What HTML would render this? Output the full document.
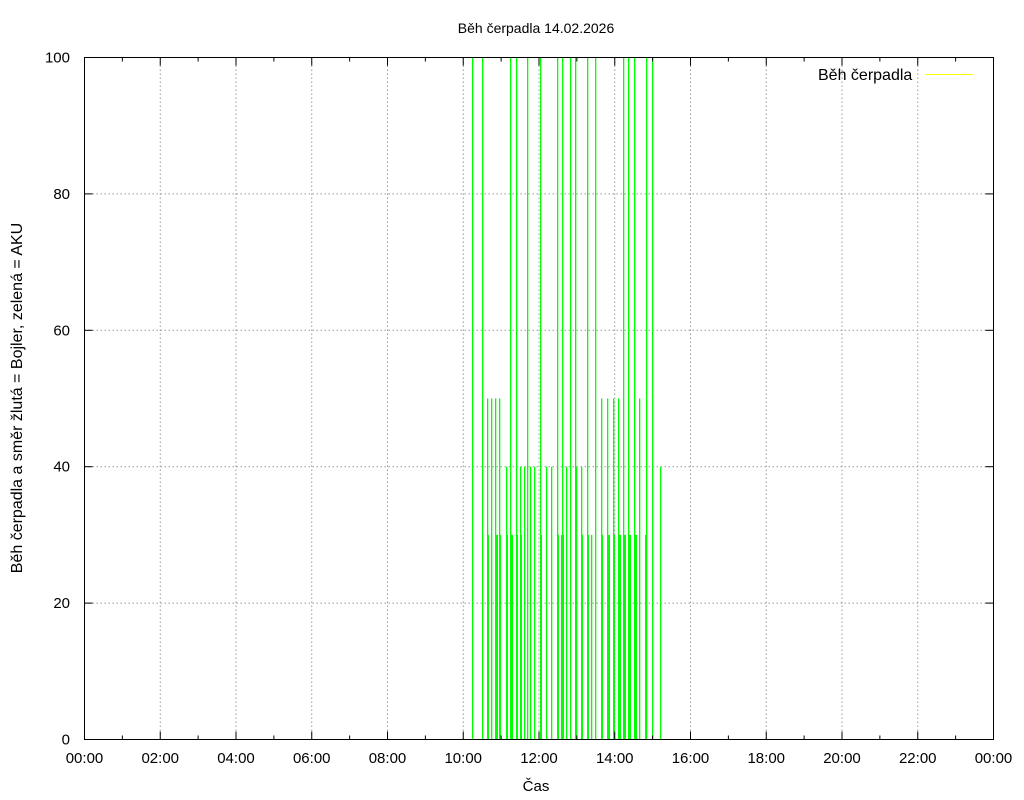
<!DOCTYPE html>
<html><head><meta charset="utf-8"><style>
body{margin:0;background:#fff}
svg{display:block;font-family:"Liberation Sans",sans-serif}
</style></head><body>
<svg id="s" width="1024" height="800" xmlns="http://www.w3.org/2000/svg">
<rect width="1024" height="800" fill="#fff"/>
<text x="536" y="33" font-size="14" text-anchor="middle">Běh čerpadla 14.02.2026</text>
<text x="536" y="791" font-size="15" text-anchor="middle">Čas</text>
<text transform="translate(22,398) rotate(-90)" font-size="16" text-anchor="middle">Běh čerpadla a směr žlutá = Bojler, zelená = AKU</text>
<g id="grid"></g>
<g id="bars"></g>
<rect x="84.5" y="57.5" width="909" height="682" fill="none" stroke="#000" stroke-width="1"/>
<g id="ticks"></g>
<text x="818" y="80" font-size="16">Běh čerpadla</text>
<line x1="925" y1="74.5" x2="973" y2="74.5" stroke="#ffff00" stroke-width="1"/>
</svg>
<script>
var NS="http://www.w3.org/2000/svg";
function el(p,t,a,txt){var e=document.createElementNS(NS,t);for(var k in a)e.setAttribute(k,a[k]);if(txt!=null)e.textContent=txt;document.getElementById(p).appendChild(e);}
var X0=84.5,W=909,Y0=739.5,H=682;
for(var v=0;v<=100;v+=20){var y=Y0-v*H/100;
 if(v>0&&v<100)el("grid","line",{x1:X0,x2:X0+W,y1:y,y2:y,stroke:"#999","stroke-dasharray":"1.5,2.5"});
 el("ticks","line",{x1:X0,x2:X0+8,y1:y,y2:y,stroke:"#000"});
 el("ticks","line",{x1:X0+W-8,x2:X0+W,y1:y,y2:y,stroke:"#000"});
 el("ticks","text",{x:70,y:y+5,"font-size":15,"text-anchor":"end"},String(v));}
for(var h=0;h<=24;h++){var x=X0+h*W/24;var big=h%2==0;
 if(big&&h>0&&h<24)el("grid","line",{x1:x,x2:x,y1:57.5,y2:Y0,stroke:"#999","stroke-dasharray":"1.5,2.5"});
 var L=big?8:4;
 el("ticks","line",{x1:x,x2:x,y1:Y0-L,y2:Y0,stroke:"#000"});
 el("ticks","line",{x1:x,x2:x,y1:57.5,y2:57.5+L,stroke:"#000"});
 if(big)el("ticks","text",{x:x,y:763,"font-size":15,"text-anchor":"middle"},(h%24<10?"0":"")+(h%24)+":00");}
var G="#00ff00";
var lines=[[472,100],[482,100],[487,50],[491,50],[495,50],[499,50],[506,40],[510,100],[516,100],[520,40],[524,40],[527,100],[530,40],[534,40],[540,100],[546,40],[551,40],[557,100],[562,100],[566,40],[570,100],[575,100],[581,40],[587,100],[591,30],[595,100],[601,50],[607,50],[613,50],[618,50],[623,100],[628,100],[634,100],[639,50],[646,100],[652,100],[660,40]];
lines.forEach(function(l){var y=Y0-l[1]*H/100;el("bars","rect",{x:l[0],y:y,width:1.3,height:Y0-y,fill:G});});
var blocks=[[487,2],[495,3],[499,2],[506,2],[510,3],[516,2],[520,2],[540,2],[557,2],[562,2],[561,3],[575,2],[581,2],[587,2],[601,2],[607,3],[613,2],[618,3],[623,3],[628,3],[634,3],[645,2]];
var y30=Y0-30*H/100;
blocks.forEach(function(b){el("bars","rect",{x:b[0],y:y30,width:b[1],height:Y0-y30,fill:G});});
el("bars","rect",{x:575,y:Y0-40*H/100,width:2.3,height:40*H/100,fill:G});
</script>
</body></html>
